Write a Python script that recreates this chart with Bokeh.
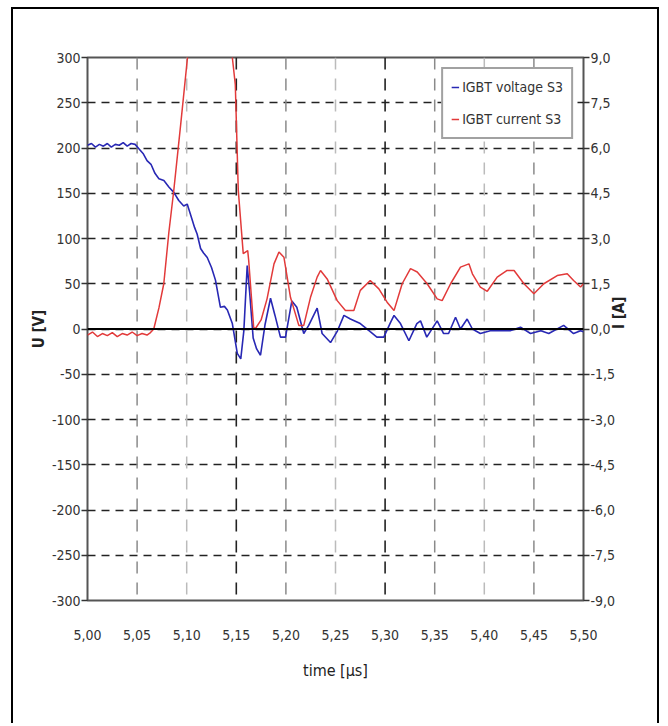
import math
from bokeh.plotting import figure
from bokeh.models import (Range1d, LinearAxis, FixedTicker, CustomJSTickFormatter,
                          Span, Legend)
from bokeh.embed import file_html
from bokeh.resources import INLINE

# ---------------- data ----------------
t_voltage = [5.000, 5.004, 5.008, 5.012, 5.016, 5.020, 5.024, 5.028, 5.032, 5.036,
             5.040, 5.044, 5.048, 5.052, 5.056, 5.060, 5.064, 5.068, 5.072, 5.077,
             5.082, 5.087, 5.092, 5.097, 5.1005, 5.104, 5.108, 5.1105, 5.114, 5.117,
             5.1207, 5.125, 5.129, 5.134, 5.138, 5.141, 5.146, 5.151, 5.1545, 5.1576,
             5.161, 5.1635, 5.167, 5.1705, 5.1744, 5.179, 5.1845, 5.189, 5.1945, 5.1996,
             5.206, 5.211, 5.218, 5.223, 5.2315, 5.2365, 5.245, 5.252, 5.2585, 5.265,
             5.275, 5.285, 5.2917, 5.2987, 5.3054, 5.309, 5.3155, 5.324, 5.332, 5.3357,
             5.342, 5.3525, 5.359, 5.364, 5.371, 5.376, 5.3827, 5.388, 5.396, 5.406,
             5.416, 5.426, 5.4365, 5.4466, 5.457, 5.465, 5.480, 5.490, 5.497, 5.500]
u_voltage = [203, 205, 201, 204, 202, 205, 201, 204, 203, 206,
             202, 205, 204, 199, 194, 186, 182, 172, 166, 164,
             157, 151, 142, 136, 138, 126, 112, 105, 89, 84,
             79, 68, 54, 24, 25, 21, 6, -27, -33, -2,
             70, 40, -10, -22, -29, 5, 34, 15, -9, -9,
             31, 24, -5, 4, 23, -5, -15, -2, 15, 11,
             6, -3, -9, -9, 7, 15, 6, -13, 6, 9,
             -9, 9, -5, -5, 13, 0, 11, 0, -5, -2,
             -2, -2, 2, -5, -2, -5, 4, -5, -2, -3]

t_current = [5.000, 5.005, 5.010, 5.015, 5.020, 5.025, 5.030, 5.035, 5.040, 5.045,
             5.050, 5.055, 5.060, 5.0635, 5.0668, 5.072, 5.0769, 5.082, 5.087, 5.094,
             5.1005, 5.103, 5.144, 5.146, 5.149, 5.152, 5.157, 5.1615, 5.1625, 5.1675,
             5.169, 5.175, 5.181, 5.188, 5.193, 5.198, 5.2046, 5.213, 5.218, 5.2248,
             5.2315, 5.2349, 5.2416, 5.2517, 5.260, 5.2685, 5.275, 5.285, 5.2937, 5.302,
             5.309, 5.3172, 5.3256, 5.3324, 5.3424, 5.3525, 5.3575, 5.366, 5.376, 5.3845,
             5.388, 5.396, 5.403, 5.413, 5.423, 5.430, 5.440, 5.450, 5.460, 5.4735,
             5.4836, 5.490, 5.497, 5.500]
i_current = [-0.20, -0.10, -0.25, -0.15, -0.22, -0.12, -0.25, -0.15, -0.20, -0.10,
             -0.22, -0.15, -0.20, -0.12, 0.00, 0.70, 1.50, 3.20, 4.60, 6.80,
             8.90, 9.60, 9.60, 9.00, 8.10, 4.60, 2.50, 2.60, 2.27, 0.06,
             0.00, 0.30, 1.00, 2.16, 2.55, 2.38, 1.05, 0.12, 0.12, 1.05,
             1.72, 1.94, 1.66, 0.94, 0.61, 0.61, 1.28, 1.61, 1.33, 0.89,
             0.61, 1.50, 2.00, 1.89, 1.50, 1.00, 0.94, 1.50, 2.05, 2.16,
             1.83, 1.39, 1.25, 1.72, 1.94, 1.94, 1.50, 1.17, 1.50, 1.77,
             1.83, 1.61, 1.39, 1.50]

x_ticks = [5.00, 5.05, 5.10, 5.15, 5.20, 5.25, 5.30, 5.35, 5.40, 5.45, 5.50]
x_labels = ["5,00", "5,05", "5,10", "5,15", "5,20", "5,25", "5,30", "5,35", "5,40", "5,45", "5,50"]
v_ticks = [-300, -250, -200, -150, -100, -50, 0, 50, 100, 150, 200, 250, 300]
v_labels = ["-300", "-250", "-200", "-150", "-100", "-50", "0", "50", "100", "150", "200", "250", "300"]
a_ticks = [-9.0, -7.5, -6.0, -4.5, -3.0, -1.5, 0.0, 1.5, 3.0, 4.5, 6.0, 7.5, 9.0]
a_labels = ["-9,0", "-7,5", "-6,0", "-4,5", "-3,0", "-1,5", "0,0", "1,5", "3,0", "4,5", "6,0", "7,5", "9,0"]
dark_vlines = [5.15, 5.30]
mid_vlines = [5.05, 5.20, 5.35, 5.45]
light_vlines = [5.10, 5.25, 5.40]

# ---------------- figure ----------------
FONT = "Liberation Sans Narrow, DejaVu Sans Condensed, Arial Narrow, sans-serif"

p = figure(width=648, height=716, output_backend="svg", toolbar_location=None,
           x_range=Range1d(5.0, 5.5), y_range=Range1d(-300, 300),
           min_border_left=74, min_border_right=78, min_border_top=48,
           min_border_bottom=125)
p.styles = {"border-top": "2px solid black", "border-left": "2px solid black",
            "border-right": "2px solid black", "margin-left": "11px",
            "margin-top": "7px"}
p.extra_y_ranges = {"cur": Range1d(-9, 9)}

p.outline_line_color = "#555555"
p.outline_line_width = 2
p.background_fill_color = "white"
p.border_fill_color = "white"

fmt_code = """
let best = 0, bd = Infinity;
for (let i = 0; i < tv.length; i++) {
  const d = Math.abs(tv[i] - tick);
  if (d < bd) { bd = d; best = i; }
}
return tl[best];
"""

# x axis
xa = p.xaxis[0]
xa.ticker = FixedTicker(ticks=x_ticks)
xa.formatter = CustomJSTickFormatter(args=dict(tv=x_ticks, tl=x_labels), code=fmt_code)
xa.major_tick_out = 0
xa.major_tick_in = 0
xa.minor_tick_out = 0
xa.minor_tick_in = 0
xa.axis_line_color = None
xa.major_label_standoff = 29
xa.axis_label = "time [µs]"
xa.axis_label_standoff = 18
xa.axis_label_text_font_style = "normal"
xa.axis_label_text_font_size = "16px"
xa.axis_label_text_font = FONT
xa.axis_label_text_color = "#222222"

# left axis
ya = p.yaxis[0]
ya.ticker = FixedTicker(ticks=v_ticks)
ya.formatter = CustomJSTickFormatter(args=dict(tv=v_ticks, tl=v_labels), code=fmt_code)
ya.axis_label = "U [V]"

# right axis
ra = LinearAxis(y_range_name="cur")
ra.ticker = FixedTicker(ticks=a_ticks)
ra.formatter = CustomJSTickFormatter(args=dict(tv=a_ticks, tl=a_labels), code=fmt_code)
ra.axis_label = "I [A]"
p.add_layout(ra, "right")

for ax in (ya, ra):
    ax.major_tick_out = 6
    ax.major_tick_in = 0
    ax.minor_tick_out = 0
    ax.minor_tick_in = 0
    ax.major_tick_line_color = "#333333"
    ax.major_tick_line_width = 1.5
    ax.axis_line_color = None
    ax.major_label_standoff = 1
    ax.axis_label_standoff = 1
    ax.axis_label_text_font_style = "bold"
    ax.axis_label_text_font_size = "15px"
    ax.axis_label_text_font = FONT
    ax.axis_label_text_color = "#222222"

# the reference reads the right title bottom-to-top as well
if "axis_label_orientation" in ra.properties():
    try:
        ra.axis_label_orientation = math.pi / 2
        ra.axis_label_text_align = "center"
        ra.axis_label_text_baseline = "bottom"
    except Exception:
        pass

for ax in (xa, ya, ra):
    ax.major_label_text_font = FONT
    ax.major_label_text_font_size = "14px"
    ax.major_label_text_color = "#333333"

# grids
p.xgrid.grid_line_color = None
p.ygrid.ticker = FixedTicker(ticks=v_ticks)
p.ygrid.grid_line_color = "#222222"
p.ygrid.grid_line_width = 1.6
p.ygrid.grid_line_dash = "8 6"

for xv in light_vlines:
    p.add_layout(Span(location=xv, dimension="height", line_color="#bbbbbb",
                      line_width=1.5, line_dash="12 9", level="underlay"))
for xv in mid_vlines:
    p.add_layout(Span(location=xv, dimension="height", line_color="#8a8a8a",
                      line_width=1.5, line_dash="12 9", level="underlay"))
for xv in dark_vlines:
    p.add_layout(Span(location=xv, dimension="height", line_color="#222222",
                      line_width=1.6, line_dash="12 9", level="underlay"))

# lines
lv = p.line(t_voltage, u_voltage, line_color="#2828b4", line_width=1.6)
lc = p.line(t_current, i_current, line_color="#e23a3a", line_width=1.5, y_range_name="cur")

p.add_layout(Span(location=0, dimension="width", line_color="black", line_width=2))

legend = Legend(items=[("IGBT voltage S3", [lv]), ("IGBT current S3", [lc])],
                location="top_right", margin=10, padding=8, spacing=12,
                label_height=20, glyph_width=8, glyph_height=20, label_standoff=3,
                border_line_color="#444444", border_line_width=2,
                background_fill_color="white", background_fill_alpha=1.0,
                label_text_font=FONT, label_text_font_size="14px",
                label_text_color="#333333")
p.add_layout(legend)

open("out.html", "w").write(file_html(p, INLINE))
